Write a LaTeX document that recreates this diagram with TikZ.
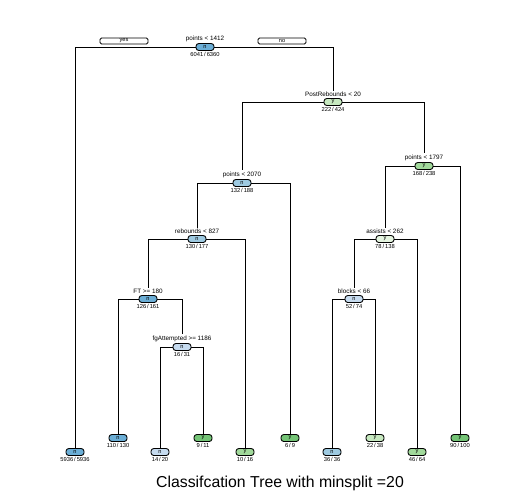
\documentclass[tikz,border=0pt]{standalone}
\usepackage{fontspec}
\setmainfont{Liberation Sans}
\usetikzlibrary{positioning}

\definecolor{bluD}{HTML}{6BAED6}
\definecolor{bluM}{HTML}{9ECAE1}
\definecolor{bluL}{HTML}{C6DBEF}
\definecolor{grnD}{HTML}{74C476}
\definecolor{grnM}{HTML}{A1D99B}
\definecolor{grnL}{HTML}{C7E9C0}
\definecolor{grnX}{HTML}{E5F5E0}

\begin{document}
\begin{tikzpicture}[x=0.02cm, y=-0.02cm, line width=0.55pt,
    box/.style={draw, fill=#1, line width=0.5pt, rounded corners=1.6pt,
      minimum width=0.36cm, minimum height=0.14cm, inner sep=0pt,
      font=\fontsize{3.2}{3.5}\selectfont},
    rule/.style={inner sep=0.3pt, font=\fontsize{3.6}{4}\selectfont},
    cnt/.style={inner sep=0.3pt, font=\fontsize{3.3}{4}\selectfont},
    yn/.style={draw, line width=0.5pt, rounded corners=0.8pt, minimum width=0.96cm,
      minimum height=0.12cm, inner sep=0pt, font=\fontsize{3.2}{3.5}\selectfont}]

  \useasboundingbox (0,0) rectangle (526,495);

  % splits
  \foreach \nm/\x/\y/\col/\cl/\txt/\a/\b in {
      root/205/47/bluD/n/{points < 1412}/6041/6360,
      post/333/102/grnL/y/{PostRebounds < 20}/222/424,
      ptA/242/183/bluM/n/{points < 2070}/132/188,
      reb/197/239/bluM/n/{rebounds < 827}/130/177,
      ft/148/299/bluD/n/{FT >= 180}/126/161,
      fga/182/347/bluL/n/{fgAttempted >= 1186}/16/31,
      ptB/424/166/grnM/y/{points < 1797}/168/238,
      ast/385/239/grnX/y/{assists < 262}/78/138,
      blk/354/299/bluL/n/{blocks < 66}/52/74}{
    \node[box=\col] (\nm) at (\x,\y) {\cl};
    \node[rule, above=0.4pt of \nm] (\nm R) {\txt};
    \node[cnt, below=0.4pt of \nm] (\nm N) {\a\,/\,\b};
  }

  % leaves
  \foreach \nm/\x/\y/\col/\cl/\a/\b in {
      lfA/75/452/bluD/n/5936/5936,
      lfB/118/438/bluD/n/110/130,
      lfC/160/452/bluL/n/14/20,
      lfD/203/438/grnD/y/9/11,
      lfE/245/452/grnM/y/10/16,
      lfF/290/438/grnD/y/6/9,
      lfG/332/452/bluM/n/36/36,
      lfH/375/438/grnL/y/22/38,
      lfI/417/452/grnM/y/46/64,
      lfJ/460/438/grnD/y/90/100}{
    \node[box=\col] (\nm) at (\x,\y) {\cl};
    \node[cnt, below=0.4pt of \nm] (\nm N) {\a\,/\,\b};
  }

  \node[yn] (yes) at (124,41) {yes};
  \node[yn] (no) at (282,41) {no};

  % branches
  \draw (root.west) -| (lfA.north);
  \draw (root.east) -| (postR.north);
  \draw (post.west) -| (ptAR.north);
  \draw (post.east) -| (ptBR.north);
  \draw (ptA.west) -| (rebR.north);
  \draw (ptA.east) -| (lfF.north);
  \draw (reb.west) -| (ftR.north);
  \draw (reb.east) -| (lfE.north);
  \draw (ft.west) -| (lfB.north);
  \draw (ft.east) -| (fgaR.north);
  \draw (fga.west) -| (lfC.north);
  \draw (fga.east) -| (lfD.north);
  \draw (ptB.west) -| (astR.north);
  \draw (ptB.east) -| (lfJ.north);
  \draw (ast.west) -| (blkR.north);
  \draw (ast.east) -| (lfI.north);
  \draw (blk.west) -| (lfG.north);
  \draw (blk.east) -| (lfH.north);

  \node[font=\fontsize{9}{11}\selectfont] (title) at (280,483)
    {Classifcation Tree with minsplit =20};
\end{tikzpicture}
\end{document}
